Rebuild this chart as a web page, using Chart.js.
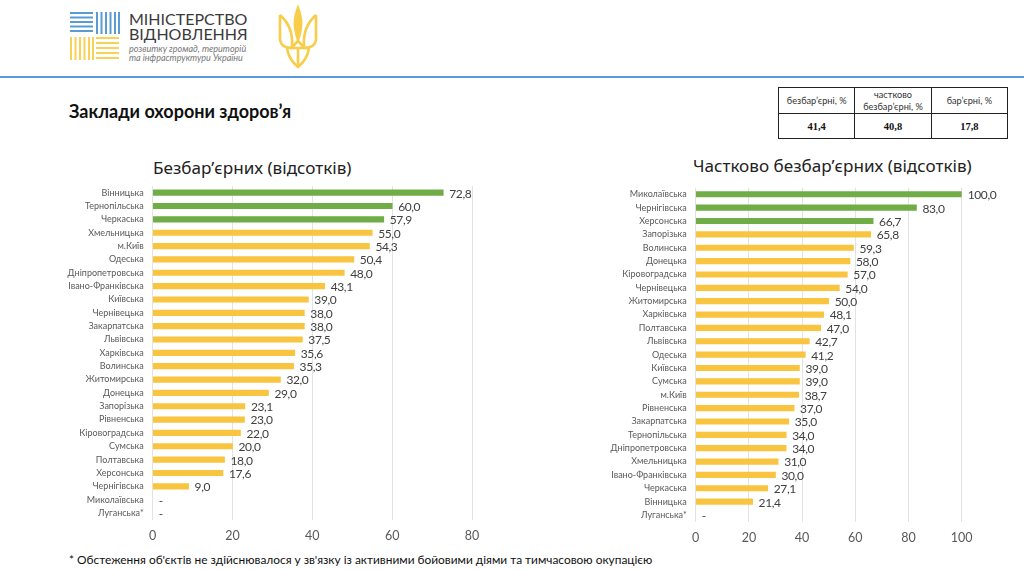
<!DOCTYPE html>
<html lang="uk">
<head>
<meta charset="utf-8">
<title>Заклади охорони здоров’я</title>
<script src="https://cdn.jsdelivr.net/npm/chart.js@4"></script>
<style>
html, body { margin: 0; padding: 0; background: #fff; }
body { position: relative; width: 1024px; height: 570px; overflow: hidden; font-family: Lato, "Open Sans", sans-serif; }
.abs { position: absolute; white-space: nowrap; }
#logo { position: absolute; left: 0; top: 0; }
#rule { position: absolute; left: 0; top: 76px; width: 1024px; height: 2px; background: #5b9bd5; }
#mainTitle { left: 69px; top: 100px; font: bold 18px Lato, sans-serif; color: #111; }
.chartTitle { font: 17.1px "Noto Sans", sans-serif; color: #222; }
#note { left: 69px; top: 552px; font: 11.9px Lato, sans-serif; color: #111; }
#summary { position: absolute; left: 778px; top: 87px; width: 230px; height: 52px; border-collapse: collapse; table-layout: fixed; }
#summary td { border: 1px solid #222; text-align: center; padding: 0; color: #333; font: 9.2px/12px Lato, sans-serif; }
#summary tr:first-child td { height: 25px; }
#summary tr:last-child td { font: bold 10.5px "Liberation Serif", serif; color: #111; }
canvas { position: absolute; }
</style>
</head>
<body>
<svg id="logo" width="340" height="76" xmlns="http://www.w3.org/2000/svg">
  <g stroke="#5b9bd5" stroke-width="2">
    <path d="M70 13H93M70 17.5H93M70 22H93M70 26.5H93M70 31H93"/>
    <path d="M97 12V34M101.5 12V34M106 12V34M110.5 12V34M115 12V34M119 12V34"/>
  </g>
  <g stroke="#f8d257" stroke-width="2">
    <path d="M71 37V60M75.5 37V60M80 37V60M84.5 37V60M89 37V60M93 37V60"/>
    <path d="M96 38H119M96 43H119M96 48H119M96 53H119M96 58H119"/>
  </g>
  <g font-family="Lato, 'Open Sans', sans-serif" fill="#3a3a3a">
    <text x="129" y="25" font-size="16">МІНІСТЕРСТВО</text>
    <text x="129" y="39.5" font-size="16">ВІДНОВЛЕННЯ</text>
    <text x="129" y="52" font-size="9" font-style="italic" fill="#777">розвитку громад, територій</text>
    <text x="129" y="61" font-size="9" font-style="italic" fill="#777">та інфраструктури України</text>
  </g>
  <path fill="#f7cd4a" d="M298 4C295 12 293.5 18 293.5 24C294 32 296 38 298 44C300 38 302 32 302.5 24C302.5 18 301 12 298 4Z"/>
  <g fill="none" stroke="#f7cd4a" stroke-width="2.6" stroke-linejoin="round">
    <path d="M280 15V40C281 46 286 48 292 48"/>
    <path d="M280 15C288 22 293 32 292 46"/>
    <path d="M316 15V40C315 46 310 48 304 48"/>
    <path d="M316 15C308 22 303 32 304 46"/>
    <path d="M287 48C288 56 292 62 298 67C304 62 308 56 309 48"/>
    <path d="M286 48H310M291 48L298 41L305 48M298 48V67"/>
  </g>
</svg>
<div id="rule"></div>
<div id="mainTitle" class="abs">Заклади охорони здоров’я</div>
<table id="summary"><tbody id="summaryBody"></tbody></table>
<div class="abs chartTitle" style="left:153px;top:156px">Безбар’єрних (відсотків)</div>
<div class="abs chartTitle" style="left:693px;top:154px">Частково безбар’єрних (відсотків)</div>
<canvas id="leftChart" style="left:60px;top:180px"></canvas>
<canvas id="rightChart" style="left:600px;top:180px"></canvas>
<div id="note" class="abs">* Обстеження об'єктів не здійснювалося у зв'язку із активними бойовими діями та тимчасовою окупацією</div>

<script>
// зведена таблиця
const summaryHeads = ['безбар’єрні, %', 'частково<br>безбар’єрні, %', 'бар’єрні, %'];
const summaryValues = ['41,4', '40,8', '17,8'];

// ліва діаграма
const leftRegions = ['Вінницька', 'Тернопільська', 'Черкаська', 'Хмельницька', 'м.Київ', 'Одеська', 'Дніпропетровська', 'Івано-Франківська', 'Київська', 'Чернівецька', 'Закарпатська', 'Львівська', 'Харківська', 'Волинська', 'Житомирська', 'Донецька', 'Запорізька', 'Рівненська', 'Кіровоградська', 'Сумська', 'Полтавська', 'Херсонська', 'Чернігівська', 'Миколаївська', 'Луганська*'];
const leftValues = [72.8, 60, 57.9, 55, 54.3, 50.4, 48, 43.1, 39, 38, 38, 37.5, 35.6, 35.3, 32, 29, 23.1, 23, 22, 20, 18, 17.6, 9, null, null];
const leftTicks = [0, 20, 40, 60, 80];

// права діаграма
const rightRegions = ['Миколаївська', 'Чернігівська', 'Херсонська', 'Запорізька', 'Волинська', 'Донецька', 'Кіровоградська', 'Чернівецька', 'Житомирська', 'Харківська', 'Полтавська', 'Львівська', 'Одеська', 'Київська', 'Сумська', 'м.Київ', 'Рівненська', 'Закарпатська', 'Тернопільська', 'Дніпропетровська', 'Хмельницька', 'Івано-Франківська', 'Черкаська', 'Вінницька', 'Луганська*'];
const rightValues = [100, 83, 66.7, 65.8, 59.3, 58, 57, 54, 50, 48.1, 47, 42.7, 41.2, 39, 39, 38.7, 37, 35, 34, 34, 31, 30, 27.1, 21.4, null];
const rightTicks = [0, 20, 40, 60, 80, 100];

const GREEN = '#70ad47';
const YELLOW = '#f9c440';

document.getElementById('summaryBody').innerHTML =
    '<tr>' + summaryHeads.map(h => '<td>' + h + '</td>').join('') + '</tr>' +
    '<tr>' + summaryValues.map(v => '<td>' + v + '</td>').join('') + '</tr>';

// підписи значень біля стовпчиків, порожні значення показуємо рискою
const valueLabels = {
    id: 'valueLabels',
    afterDatasetsDraw(chart) {
        const ctx = chart.ctx;
        const x = chart.scales.x;
        const y = chart.scales.y;
        const values = chart.data.datasets[0].data;
        ctx.save();
        ctx.font = '12px Lato, "Open Sans", sans-serif';
        ctx.letterSpacing = '-0.4px';
        ctx.fillStyle = '#404040';
        ctx.textBaseline = 'middle';
        values.forEach((v, i) => {
            const text = v === null ? '-' : v.toFixed(1).replace('.', ',');
            ctx.fillText(text, x.getPixelForValue(v === null ? 0 : v) + 6, y.getPixelForValue(i) + 1);
        });
        ctx.restore();
    }
};

function drawChart(id, regions, values, ticks, box) {
    const canvas = document.getElementById(id);
    canvas.width = box.width;
    canvas.height = box.height;
    return new Chart(canvas, {
        type: 'bar',
        data: {
            labels: regions,
            datasets: [{
                data: values,
                backgroundColor: values.map((v, i) => i < 3 ? GREEN : YELLOW),
                barThickness: 5.5
            }]
        },
        options: {
            indexAxis: 'y',
            responsive: false,
            animation: false,
            layout: { autoPadding: false, padding: { top: box.top, right: box.right, bottom: 0, left: 0 } },
            plugins: { legend: { display: false }, tooltip: { enabled: false } },
            scales: {
                x: {
                    min: 0,
                    max: ticks[ticks.length - 1],
                    afterBuildTicks: axis => { axis.ticks = ticks.map(value => ({ value })); },
                    afterFit: axis => { axis.height = box.axisHeight; },
                    grid: { color: '#e3e3e3', lineWidth: 1, drawTicks: false },
                    border: { display: false },
                    ticks: { color: '#595959', padding: 9, maxRotation: 0, font: { family: 'Lato', size: 12.5 } }
                },
                y: {
                    // інакше підписи відсувають верх області побудови
                    afterFit: axis => { axis.width = box.axisWidth; axis.paddingTop = 0; axis.paddingBottom = 0; },
                    grid: { display: false, drawTicks: false },
                    border: { display: false },
                    ticks: { color: '#595959', padding: 9, autoSkip: false, font: { family: 'Lato', size: 9 } }
                }
            }
        },
        plugins: [valueLabels]
    });
}

drawChart('leftChart', leftRegions, leftValues, leftTicks,
    { width: 440, height: 370, top: 6, right: 28, axisWidth: 92.7, axisHeight: 30.3 });
drawChart('rightChart', rightRegions, rightValues, rightTicks,
    { width: 424, height: 370, top: 7.6, right: 62.3, axisWidth: 95.7, axisHeight: 28.3 });
</script>
</body>
</html>
